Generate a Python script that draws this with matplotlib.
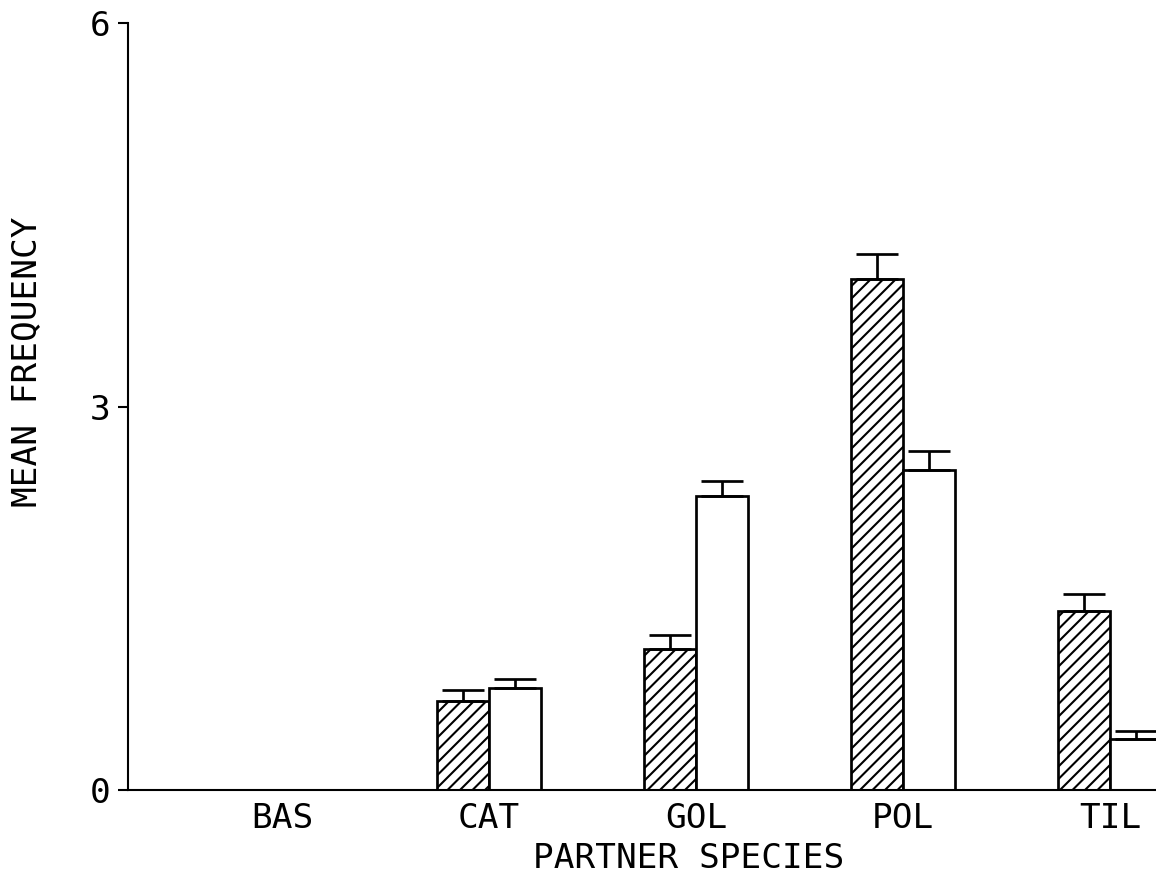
#!/usr/bin/env python3

# Mean frequency per partner species, two groups (hatched / open) with SE bars

import numpy as np
import matplotlib
matplotlib.use("Agg")
import matplotlib.pyplot as plt

# BEG DATA
species = ["BAS", "CAT", "GOL", "POL", "TIL"]
hatched_mean = [0.0, 0.70, 1.10, 4.00, 1.40]
hatched_err = [0.0, 0.08, 0.11, 0.19, 0.13]
open_mean = [0.0, 0.80, 2.30, 2.50, 0.40]
open_err = [0.0, 0.07, 0.12, 0.15, 0.06]
yticks = [0, 3, 6]
# END DATA

## matplotlib settings
plt.rcParams["font.family"] = "DejaVu Sans Mono"   # plotter-like, fixed pitch
plt.rcParams["font.size"] = 16.5
plt.rcParams["hatch.linewidth"] = 1.0
plt.rcParams["hatch.color"] = "black"

DPI = 150
fig = plt.figure(figsize=(1156 / DPI, 876 / DPI), dpi=DPI)
ax = fig.add_axes([128 / 1156, 86 / 876, 1028 / 1156, 767 / 876])

x = np.arange(len(species))
w = 0.25

ax.bar(x - w / 2, hatched_mean, width=w, facecolor="white", edgecolor="black",
       linewidth=1.3, hatch="////", zorder=2)
ax.bar(x + w / 2, open_mean, width=w, facecolor="white", edgecolor="black",
       linewidth=1.3, zorder=2)

# one-sided error bars, only where there is a bar
for off, m, e in [(-w / 2, hatched_mean, hatched_err), (w / 2, open_mean, open_err)]:
    m = np.array(m)
    e = np.array(e)
    keep = m > 0
    ax.errorbar(x[keep] + off, m[keep], yerr=[np.zeros(keep.sum()), e[keep]],
                fmt="none", ecolor="black", elinewidth=1.3, capsize=10.3,
                capthick=1.3, zorder=3)

ax.set_xlim(-0.744, 4.222)
ax.set_ylim(0, 6)
ax.set_yticks(yticks)
ax.set_yticklabels([str(t) for t in yticks])
ax.set_xticks(x)
ax.set_xticklabels(species)

ax.spines["top"].set_visible(False)
ax.spines["right"].set_visible(False)
ax.spines["left"].set_linewidth(1.0)
ax.spines["bottom"].set_linewidth(1.0)
ax.tick_params(axis="y", length=4.8, width=1.0, pad=3.4, direction="out")
ax.tick_params(axis="x", length=0, pad=5.8)

ax.set_xlabel("PARTNER SPECIES")
ax.set_ylabel("MEAN FREQUENCY")
ax.xaxis.set_label_coords(0.545, -0.068)
ax.yaxis.set_label_coords(-0.098, 0.558)
ax.yaxis.label.set_va("center")

fig.savefig("out.png", dpi=DPI)
